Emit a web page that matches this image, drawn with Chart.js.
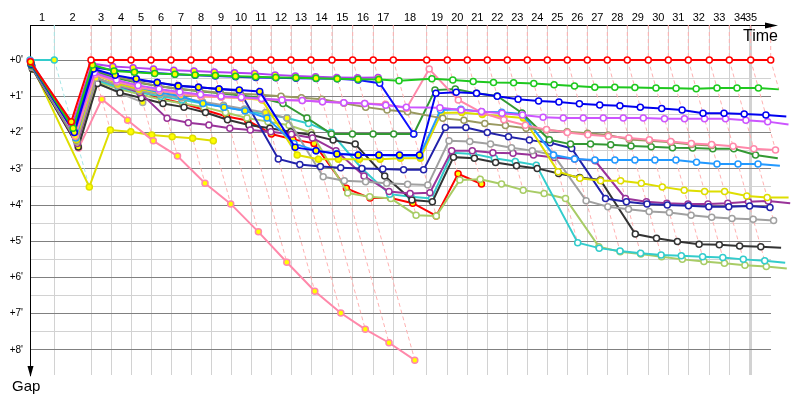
<!DOCTYPE html>
<html lang="en">
<head>
<meta charset="UTF-8">
<title>Race gap chart</title>
<script src="https://cdn.jsdelivr.net/npm/chart.js"></script>
<style>
    html, body { margin: 0; padding: 0; background: #fff; }
</style>
</head>
<body>
<canvas id="gapChart" width="800" height="400"></canvas>

<script>
    // leader time (minutes) at the end of each lap, lap 0 .. 35
    const lapTimes = [0, 2.43, 6.1, 8.1, 10.1, 12.1, 14.1, 16.1, 18.1, 20.1, 22.1, 24.1, 26.1, 28.1,
        30.2, 32.27, 34.33, 36.33, 39.67, 41.73, 43.73, 45.73, 47.73, 49.73, 51.73, 53.73, 55.73,
        57.73, 59.73, 61.83, 63.83, 65.83, 67.93, 69.93, 72.07, 74.07];

    const lapLabels = ['1', '2', '3', '4', '5', '6', '7', '8', '9', '10', '11', '12', '13', '14', '15',
        '16', '17', '18', '19', '20', '21', '22', '23', '24', '25', '26', '27', '28', '29', '30', '31',
        '32', '33', '34', '35'];

    const gapTicks = [0, 0.5, 1, 1.5, 2, 2.5, 3, 3.5, 4, 4.5, 5, 5.5, 6, 6.5, 7, 7.5, 8];

    // gap to the leader in minutes, index = lap number (null = not on that lap)
    const gapRed = [0.05, 1.7, 0, 0, 0, 0, 0, 0, 0, 0, 0, 0, 0, 0, 0, 0, 0, 0, 0, 0, 0, 0, 0, 0, 0, 0,
        0, 0, 0, 0, 0, 0, 0, 0, 0, 0];
    const gapGreen = [0.08, 1.88, 0.14, 0.3, 0.34, 0.37, 0.39, 0.41, 0.43, 0.45, 0.46, 0.48, 0.49, 0.5,
        0.52, 0.53, 0.54, 0.57, 0.52, 0.55, 0.59, 0.62, 0.63, 0.65, 0.68, 0.72, 0.75, 0.75, 0.76, 0.77,
        0.78, 0.79, 0.77, 0.77, 0.77, 0.81];
    const gapViolet = [0.03, 1.8, 0.1, 0.18, 0.21, 0.25, 0.28, 0.3, 0.33, 0.35, 0.37, 0.41, 0.44, 0.46,
        0.48, 0.49, 0.48];
    const gapBlue = [0.12, 2.0, 0.25, 0.42, 0.52, 0.62, 0.72, 0.75, 0.8, 0.83, 0.87, 2.41, 2.5, 2.59,
        2.62, 2.62, 2.62, 2.62, 0.92, 0.89, 0.92, 1.0, 1.08, 1.13, 1.16, 1.21, 1.24, 1.26, 1.3, 1.34,
        1.38, 1.47, 1.47, 1.49, 1.52, 1.56];
    const gapRoyal = [0.1, 1.95, 0.2, 0.28, 0.32, 0.36, 0.39, 0.42, 0.44, 0.46, 0.48, 0.49, 0.5, 0.51,
        0.52, 0.55, 0.64, 2.04];
    const gapMagenta = [0.1, 2.0, 0.35, 0.55, 0.7, 0.8, 0.88, 0.95, 1.0, 1.03, 1.06, 1.1, 1.12, 1.15,
        1.18, 1.2, 1.25, 1.3, 1.32, 1.38, 1.42, 1.47, 1.52, 1.58, 1.6, 1.6, 1.6, 1.6, 1.6, 1.62, 1.62,
        1.62, 1.62, 1.66, 1.7, 1.78];
    const gapPink = [0.1, 2.1, 0.4, 0.6, 0.75, 0.85, 0.93, 1.0, 1.03, 1.05, 1.08, 1.1, 1.12, 1.15, 1.18,
        1.2, 1.22, 1.33, 0.25, 1.1, 1.45, 1.65, 1.8, 1.92, 2.0, 2.06, 2.1, 2.15, 2.2, 2.25, 2.3, 2.33,
        2.38, 2.45, 2.48];
    const gapOlive = [0.1, 2.05, 0.25, 0.45, 0.6, 0.72, 0.8, 0.85, 0.9, 0.93, 0.96, 1.0, 1.04, 1.08,
        1.19, 1.3, 1.38, 1.43, 1.61, 1.66, 1.75, 1.81, 1.88, 1.93, 1.98, 2.02, 2.07, 2.19, 2.23, 2.27,
        2.33, 2.36];
    const gapDarkGreen = [0.15, 2.1, 0.3, 0.5, 0.62, 0.72, 0.8, 0.86, 0.92, 0.98, 1.05, 1.2, 1.6, 2.04,
        2.04, 2.04, 2.04, 2.04, 0.83, 0.8, 0.92, 0.99, 1.46, 2.2, 2.32, 2.32, 2.34, 2.37, 2.39, 2.42,
        2.43, 2.45, 2.45, 2.62, 2.71];
    const gapDodger = [0.15, 2.15, 0.35, 0.6, 0.75, 0.9, 1.0, 1.2, 1.3, 1.4, 1.6, 2.3, 2.5, 2.58, 2.62,
        2.63, 2.64, 2.64, 1.38, 1.36, 1.43, 1.44, 1.49, 2.62, 2.73, 2.76, 2.76, 2.76, 2.76, 2.76, 2.82,
        2.87, 2.87, 2.87, 2.92];
    const gapYellow = [0.15, 2.2, 0.4, 0.65, 0.8, 0.9, 0.95, 1.0, 1.02, 1.05, 1.1, 2.62, 2.74, 2.74,
        2.74, 2.74, 2.71, 2.71, 1.46, 1.45, 1.5, 1.55, 1.6, 3.08, 3.26, 3.33, 3.33, 3.4, 3.5, 3.59,
        3.63, 3.63, 3.75, 3.79, 3.79];
    const gapNavy = [0.15, 2.2, 0.3, 0.45, 0.55, 0.62, 0.7, 0.75, 0.8, 0.85, 2.73, 2.88, 2.94, 2.97,
        2.99, 3.01, 3.03, 3.03, 1.86, 1.86, 2.0, 2.12, 2.21, 2.28, 2.44, 3.82, 3.91, 3.97, 4.0, 4.02,
        4.05, 4.05, 4.03, 4.07];
    const gapGray = [0.2, 2.25, 0.5, 0.7, 0.85, 0.95, 1.05, 1.15, 1.25, 1.35, 1.45, 1.6, 3.22, 3.33,
        3.36, 3.4, 3.43, 3.45, 2.23, 2.25, 2.32, 2.42, 2.5, 2.62, 3.88, 4.05, 4.12, 4.18, 4.21, 4.28,
        4.34, 4.37, 4.39, 4.43];
    const gapPurple = [0.2, 2.3, 0.5, 0.7, 0.9, 1.61, 1.73, 1.79, 1.88, 1.93, 1.98, 2.05, 2.15, 2.5,
        3.2, 3.63, 3.68, 3.66, 2.5, 2.5, 2.56, 2.57, 2.62, 2.69, 2.73, 2.78, 3.82, 3.91, 3.95, 3.97,
        3.97, 3.95, 3.91, 3.89, 3.95];
    const gapBlack = [0.25, 2.4, 0.65, 0.9, 1.05, 1.2, 1.3, 1.45, 1.65, 1.79, 1.88, 1.98, 2.07, 2.21,
        2.32, 3.2, 3.86, 3.91, 2.68, 2.71, 2.83, 2.92, 2.99, 3.13, 3.24, 3.31, 4.8, 4.92, 5.01, 5.08,
        5.1, 5.13, 5.15, 5.18];
    const gapCyan = [null, null, 0.55, 0.75, 0.9, 1.0, 1.1, 1.2, 1.3, 1.4, 1.5, 1.6, 1.75, 2.0, 3.0,
        3.7, 3.77, 3.82, 2.56, 2.59, 2.71, 2.8, 2.9, 5.04, 5.19, 5.27, 5.33, 5.38, 5.4, 5.43, 5.45,
        5.5, 5.54, 5.59];
    const gapLime = [0.25, 2.35, 0.6, 0.8, 0.95, 1.1, 1.2, 1.3, 1.45, 1.6, 1.7, 1.8, 2.0, 3.67, 3.77,
        3.82, 4.28, 4.3, 3.31, 3.29, 3.42, 3.59, 3.68, 3.82, 5.15, 5.29, 5.35, 5.43, 5.5, 5.56, 5.61,
        5.66, 5.7, 5.75];
    const gapRedOut = [0.1, 1.9, 0.3, 0.6, 0.85, 1.06, 1.2, 1.38, 1.56, 1.67, 2.04, 2.19, 2.3, 3.54,
        3.81, 3.81, 3.95, 4.3, 3.14, 3.42];
    const gapPinkOut = [0.1, 2.43, 1.08, 1.66, 2.23, 2.65, 3.4, 3.97, 4.74, 5.58, 6.38, 6.98, 7.43,
        7.8, 8.28];
    const gapYellowOut = [0.1, 3.5, 1.93, 1.98, 2.07, 2.12, 2.16, 2.23];
    const gapGrayOut = [0.15, 2.2, 0.64, 0.92, 1.17];
    const gapLapOne = [0, 0];

    // last lap drawn with a yellow marker for each car
    const drivers = [
        { gaps: gapRed, color: '#ff0000', yellowUntil: 1 },
        { gaps: gapGreen, color: '#1ec81e', yellowUntil: 16 },
        { gaps: gapViolet, color: '#b040f0', yellowUntil: 99 },
        { gaps: gapBlue, color: '#0000f0', yellowUntil: 17 },
        { gaps: gapRoyal, color: '#1010ff', yellowUntil: 1 },
        { gaps: gapMagenta, color: '#cc55ff', yellowUntil: 1 },
        { gaps: gapPink, color: '#ff88aa', yellowUntil: 1 },
        { gaps: gapOlive, color: '#999960', yellowUntil: 1 },
        { gaps: gapDarkGreen, color: '#339933', yellowUntil: 1 },
        { gaps: gapDodger, color: '#2299ff', yellowUntil: 10 },
        { gaps: gapYellow, color: '#dede00', yellowUntil: 22 },
        { gaps: gapNavy, color: '#2222aa', yellowUntil: 9 },
        { gaps: gapGray, color: '#a0a0a0', yellowUntil: 11 },
        { gaps: gapPurple, color: '#993399', yellowUntil: 4 },
        { gaps: gapBlack, color: '#333333', yellowUntil: 1 },
        { gaps: gapCyan, color: '#33cccc', yellowUntil: 1 },
        { gaps: gapLime, color: '#a8cc66', yellowUntil: 1 },
        { gaps: gapRedOut, color: '#ff0000', yellowUntil: 99 },
        { gaps: gapPinkOut, color: '#ff88aa', yellowUntil: 99 },
        { gaps: gapYellowOut, color: '#dede00', yellowUntil: 99 },
        { gaps: gapGrayOut, color: '#aaaaaa', yellowUntil: 99 },
        { gaps: gapLapOne, color: '#33cccc', yellowUntil: 99 }
    ];

    const yTop = -0.966;
    const yBottom = 8.69;

    // a car's point sits at leader time + its own gap
    function pointsFor(gaps) {
        const pts = [];
        gaps.forEach((g, lap) => {
            if (g !== null && g !== undefined) pts.push({ x: lapTimes[lap] + g, y: g, lap: lap });
        });
        return pts;
    }

    const datasets = [];
    drivers.forEach((d, i) => {
        const pts = pointsFor(d.gaps);
        datasets.push({
            data: pts,
            showLine: true,
            borderColor: d.color,
            backgroundColor: d.color,
            borderWidth: 2,
            pointRadius: 3,
            pointBorderWidth: 1.5,
            pointBorderColor: d.color,
            pointBackgroundColor: pts.map(p => p.lap <= d.yellowUntil ? '#ffff00' : '#ffffff'),
            tension: 0,
            clip: false,
            order: i
        });
    });

    // dashed line through every car's point of the same lap
    for (let lap = 1; lap < lapTimes.length; lap++) {
        const gaps = [];
        drivers.forEach(d => {
            const g = d.gaps[lap];
            if (g !== null && g !== undefined) gaps.push(g);
        });
        gaps.sort((a, b) => a - b);
        const pts = [{ x: lapTimes[lap], y: yTop }].concat(gaps.map(g => ({ x: lapTimes[lap] + g, y: g })));
        datasets.push({
            data: pts,
            showLine: true,
            borderColor: lap === 1 ? '#a6e6e6' : '#ffb0b0',
            borderWidth: 1,
            borderDash: [4, 3],
            pointRadius: 0,
            tension: 0,
            clip: false,
            order: 100
        });
    }

    // grid ticks at lap ends, label ticks in the middle of each lap
    const xTicks = [];
    for (let n = 1; n <= 34; n++) {
        xTicks.push({ value: lapTimes[n], kind: n === 34 ? 'thick' : 'lap', text: '' });
    }
    lapLabels.forEach((lbl, i) => {
        const n = i + 1;
        const v = n < 35 ? (lapTimes[n - 1] + lapTimes[n]) / 2 : lapTimes[34] + 0.03;
        xTicks.push({ value: v, kind: 'none', text: lbl });
    });

    const axisExtras = {
        id: 'axisExtras',
        afterDraw(chart) {
            const { ctx, chartArea: a } = chart;
            ctx.save();
            ctx.strokeStyle = '#000';
            ctx.fillStyle = '#000';
            ctx.lineWidth = 1;
            ctx.beginPath();
            ctx.moveTo(a.right, a.top + 0.5);
            ctx.lineTo(a.right + 4, a.top + 0.5);
            ctx.moveTo(a.left + 0.5, a.bottom);
            ctx.lineTo(a.left + 0.5, a.bottom + 1);
            ctx.stroke();
            ctx.beginPath();
            ctx.moveTo(a.right + 7, a.top + 0.5);
            ctx.lineTo(a.right - 6, a.top - 2.5);
            ctx.lineTo(a.right - 6, a.top + 3.5);
            ctx.closePath();
            ctx.fill();
            ctx.beginPath();
            ctx.moveTo(a.left + 0.5, a.bottom + 2);
            ctx.lineTo(a.left - 2.5, a.bottom - 9);
            ctx.lineTo(a.left + 3.5, a.bottom - 9);
            ctx.closePath();
            ctx.fill();
            ctx.font = '16px "Liberation Sans", Arial, sans-serif';
            ctx.textBaseline = 'alphabetic';
            ctx.fillText('Time', 743, 41);
            ctx.font = '15px "Liberation Sans", Arial, sans-serif';
            ctx.fillText('Gap', 12, 391);
            ctx.restore();
        }
    };

    new Chart(document.getElementById('gapChart'), {
        type: 'scatter',
        data: { datasets: datasets },
        options: {
            responsive: false,
            animation: false,
            events: [],
            layout: { padding: { left: 0, top: 0, right: 29, bottom: 25 } },
            plugins: {
                legend: { display: false },
                tooltip: { enabled: false }
            },
            scales: {
                x: {
                    type: 'linear',
                    position: 'top',
                    min: 0,
                    max: 74.1,
                    afterBuildTicks: s => { s.ticks = xTicks.map(t => ({ value: t.value, kind: t.kind, text: t.text })); },
                    afterFit: s => { s.height = 25; },
                    grid: {
                        drawTicks: false,
                        color: c => (c.tick && c.tick.kind === 'none') ? 'rgba(0,0,0,0)' : '#d2d2d2',
                        lineWidth: c => (c.tick && c.tick.kind === 'thick') ? 3 : 1
                    },
                    border: { display: true, color: '#000', width: 1 },
                    ticks: {
                        autoSkip: false,
                        maxRotation: 0,
                        minRotation: 0,
                        padding: 0,
                        color: '#000',
                        font: { family: '"Liberation Sans", Arial, sans-serif', size: 11 },
                        callback: (v, i, ticks) => ticks[i].text
                    }
                },
                y: {
                    type: 'linear',
                    reverse: true,
                    min: yTop,
                    max: yBottom,
                    afterBuildTicks: s => { s.ticks = gapTicks.map(v => ({ value: v })); },
                    afterFit: s => { s.width = 30; },
                    grid: {
                        drawTicks: false,
                        color: c => (c.tick && Number.isInteger(c.tick.value)) ? '#808080' : '#d2d2d2'
                    },
                    border: { display: true, color: '#000', width: 1 },
                    ticks: {
                        padding: 7,
                        color: '#000',
                        font: { family: '"Liberation Sans", Arial, sans-serif', size: 10 },
                        callback: v => Number.isInteger(v) ? '+' + v + "'" : ''
                    }
                }
            }
        },
        plugins: [axisExtras]
    });
</script>
</body>
</html>
